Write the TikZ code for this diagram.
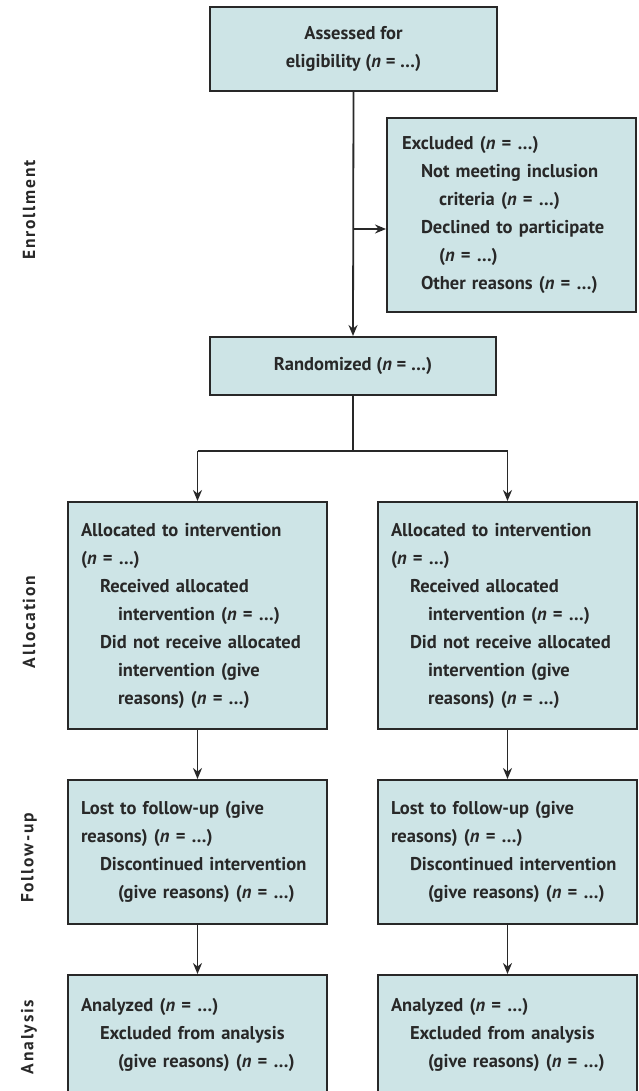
\documentclass[tikz,border=0pt]{standalone}
\usepackage{fontspec}
\setmainfont{PT Sans}
\newfontfamily\lblfont[LetterSpace=10]{PT Sans}
\usetikzlibrary{arrows.meta}
\definecolor{boxfill}{RGB}{205,228,230}
\definecolor{boxline}{RGB}{40,40,40}
\newcommand\indA{\hspace*{19pt}}
\newcommand\indB{\hspace*{37pt}}
\newcommand\nn{(\textit{n} = \dots)}
\begin{document}
\begin{tikzpicture}[x=1pt,y=-1pt,
  box/.style={draw=boxline, fill=boxfill, line width=2pt, inner sep=0pt, text=boxline,
    font=\bfseries\fontsize{18.5}{28}\selectfont, align=left},
  conn/.style={draw=boxline, line width=1.8pt},
  arr/.style={conn, -{Stealth[length=11pt,width=9pt]}},
  lbl/.style={font=\lblfont\bfseries\fontsize{17.5}{20}\selectfont, rotate=90, inner sep=0pt, text=boxline}]
\useasboundingbox (0,0) rectangle (638,1091);
\clip (0,0) rectangle (638,1091);

% Enrollment
\node[box, minimum width=287pt, minimum height=84pt, align=center] (assess) at (353.5,49)
  {Assessed for\\eligibility \nn};
\node[box, minimum width=249pt, minimum height=194pt, text width=219pt] (excl) at (511.5,215)
  {\mbox{Excluded \nn}\\
   \mbox{\indA Not meeting inclusion}\\
   \mbox{\indB criteria \nn}\\
   \mbox{\indA Declined to participate}\\
   \mbox{\indB \nn}\\
   \mbox{\indA Other reasons \nn}};
\node[box, minimum width=286pt, minimum height=58pt, align=center] (rand) at (353,366)
  {Randomized \nn};

% Allocation
\node[box, minimum width=259pt, minimum height=227pt, text width=233pt] (allocL) at (197.5,615.5)
  {\mbox{Allocated to intervention}\\
   \mbox{\nn}\\
   \mbox{\indA Received allocated}\\
   \mbox{\indB intervention \nn}\\
   \mbox{\indA Did not receive allocated}\\
   \mbox{\indB intervention (give}\\
   \mbox{\indB reasons) \nn}};
\node[box, minimum width=259pt, minimum height=227pt, text width=233pt] (allocR) at (507.5,615.5)
  {\mbox{Allocated to intervention}\\
   \mbox{\nn}\\
   \mbox{\indA Received allocated}\\
   \mbox{\indB intervention \nn}\\
   \mbox{\indA Did not receive allocated}\\
   \mbox{\indB intervention (give}\\
   \mbox{\indB reasons) \nn}};

% Follow-up
\node[box, minimum width=259pt, minimum height=144pt, text width=233pt] (followL) at (197.5,852)
  {\mbox{Lost to follow-up (give}\\
   \mbox{reasons) \nn}\\
   \mbox{\indA Discontinued intervention}\\
   \mbox{\indB (give reasons) \nn}};
\node[box, minimum width=259pt, minimum height=144pt, text width=233pt] (followR) at (507.5,852)
  {\mbox{Lost to follow-up (give}\\
   \mbox{reasons) \nn}\\
   \mbox{\indA Discontinued intervention}\\
   \mbox{\indB (give reasons) \nn}};

% Analysis
\node[box, minimum width=259pt, minimum height=120pt, text width=233pt] (anaL) at (197.5,1035)
  {\mbox{Analyzed \nn}\\
   \mbox{\indA Excluded from analysis}\\
   \mbox{\indB (give reasons) \nn}};
\node[box, minimum width=259pt, minimum height=120pt, text width=233pt] (anaR) at (507.5,1035)
  {\mbox{Analyzed \nn}\\
   \mbox{\indA Excluded from analysis}\\
   \mbox{\indB (give reasons) \nn}};

% Side labels
\node[lbl] (lenr) at (29,210) {Enrollment};
\node[lbl] (lall) at (29,622) {Allocation};
\node[lbl] (lfol) at (29,858) {Follow-up};
\node[lbl] (lana) at (29,1037) {Analysis};

% Connectors
\draw[arr] (assess.south) -- (rand.north);
\coordinate (j1) at (assess.south |- 0,229);
\draw[arr] (j1) -- (j1 -| excl.west);
\coordinate (split) at (rand.south |- 0,451);
\draw[conn] (rand.south) -- (split);
\draw[conn] (allocL.north |- split) -- (allocR.north |- split);
\draw[arr] (allocL.north |- split) -- (allocL.north);
\draw[arr] (allocR.north |- split) -- (allocR.north);
\draw[arr] (allocL.south) -- (followL.north);
\draw[arr] (allocR.south) -- (followR.north);
\draw[arr] (followL.south) -- (anaL.north);
\draw[arr] (followR.south) -- (anaR.north);
\end{tikzpicture}
\end{document}
